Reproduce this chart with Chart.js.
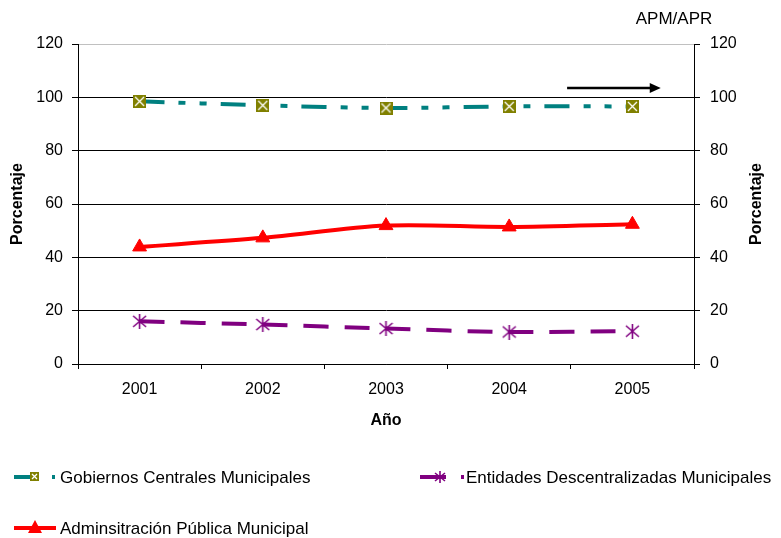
<!DOCTYPE html>
<html>
<head>
<meta charset="utf-8">
<script src="https://cdn.jsdelivr.net/npm/chart.js@4.4.1/dist/chart.umd.min.js"></script>
<style>
  body{margin:0;background:#fff;}
  canvas{display:block;}
</style>
</head>
<body>
<canvas id="myChart" width="781" height="538"></canvas>
<script>
var v_years = ["2001","2002","2003","2004","2005"];
var v_gobiernos = [98.5, 97.0, 96.0, 96.6, 96.6];   // Gobiernos Centrales Municipales
var v_entidades = [16.0, 14.8, 13.3, 12.0, 12.3];   // Entidades Descentralizadas Municipales
var v_admin = [43.9, 47.3, 51.9, 51.4, 52.4];       // Adminsitración Pública Municipal
var v_ticks = [0, 20, 40, 60, 80, 100, 120];
var v_names = ["Gobiernos Centrales Municipales", "Entidades Descentralizadas Municipales", "Adminsitración Pública Municipal"];

var v_font = "'Liberation Sans', Arial, sans-serif";

// 마커 그리기
function f_boxX(p_size){
  var c = document.createElement("canvas");
  c.width = p_size; c.height = p_size;
  var g = c.getContext("2d");
  g.fillStyle = "#808000";
  g.fillRect(0,0,p_size,p_size);
  g.strokeStyle = "#fff";
  g.lineWidth = 1.3;
  g.beginPath();
  g.moveTo(2,2); g.lineTo(p_size-2,p_size-2);
  g.moveTo(p_size-2,2); g.lineTo(2,p_size-2);
  g.stroke();
  return c;
}
function f_star(p_size){
  var c = document.createElement("canvas");
  c.width = p_size; c.height = p_size;
  var g = c.getContext("2d");
  var m = p_size/2;
  g.strokeStyle = "#800080";
  g.lineWidth = 1.6;
  g.beginPath();
  g.moveTo(m,0); g.lineTo(m,p_size);
  g.moveTo(1,2); g.lineTo(p_size-1,p_size-2);
  g.moveTo(p_size-1,2); g.lineTo(1,p_size-2);
  g.stroke();
  return c;
}
var v_boxX = f_boxX(13);
var v_star = f_star(15);
var v_boxXs = f_boxX(9);
var v_stars = f_star(12);

// 범례, 화살표, 오른쪽 제목
var v_extra = {
  id: "extra",
  afterDraw: function(chart){
    var ctx = chart.ctx;
    var xs = chart.scales.x, ys = chart.scales.y;
    ctx.save();
    // 화살표
    var step = xs.getPixelForValue(1) - xs.getPixelForValue(0);
    var ax0 = xs.getPixelForValue(3) + step*0.47;
    var ax1 = xs.getPixelForValue(4) + step*0.23;
    var ay = ys.getPixelForValue(103.5);
    ctx.strokeStyle = "#000"; ctx.fillStyle = "#000"; ctx.lineWidth = 2.5;
    ctx.beginPath(); ctx.moveTo(ax0, ay); ctx.lineTo(ax1-8, ay); ctx.stroke();
    ctx.beginPath(); ctx.moveTo(ax1, ay); ctx.lineTo(ax1-11, ay-5); ctx.lineTo(ax1-11, ay+5); ctx.closePath(); ctx.fill();

    // APM/APR
    ctx.font = "17px " + v_font;
    ctx.textAlign = "center"; ctx.textBaseline = "middle";
    ctx.fillText("APM/APR", 674, 19);

    // 오른쪽 축 제목
    ctx.save();
    ctx.translate(757, ys.getPixelForValue(60));
    ctx.rotate(-Math.PI/2);
    ctx.font = "bold 16px " + v_font;
    ctx.fillText("Porcentaje", 0, 0);
    ctx.restore();

    // 범례
    ctx.font = "17px " + v_font;
    ctx.textAlign = "left";
    var ds = chart.data.datasets;
    // 1
    ctx.lineWidth = 4; ctx.strokeStyle = ds[0].borderColor;
    ctx.beginPath(); ctx.moveTo(14, 477); ctx.lineTo(36, 477); ctx.stroke();
    ctx.drawImage(v_boxXs, 30, 472);
    ctx.fillStyle = ds[0].borderColor; ctx.fillRect(52, 475, 3, 4);
    ctx.fillStyle = "#000"; ctx.fillText(v_names[0], 60, 478);
    // 2
    ctx.strokeStyle = ds[1].borderColor;
    ctx.beginPath(); ctx.moveTo(420, 477); ctx.lineTo(446, 477); ctx.stroke();
    ctx.drawImage(v_stars, 434, 471);
    ctx.fillStyle = ds[1].borderColor; ctx.fillRect(461, 475, 3, 4);
    ctx.fillStyle = "#000"; ctx.fillText(v_names[1], 466, 478);
    // 3
    ctx.strokeStyle = ds[2].borderColor;
    ctx.beginPath(); ctx.moveTo(14, 528); ctx.lineTo(56, 528); ctx.stroke();
    ctx.fillStyle = ds[2].borderColor;
    ctx.beginPath(); ctx.moveTo(35, 520); ctx.lineTo(42, 533); ctx.lineTo(28, 533); ctx.closePath(); ctx.fill();
    ctx.fillStyle = "#000"; ctx.fillText(v_names[2], 60, 529);
    ctx.restore();
  }
};

var ctx = document.getElementById("myChart").getContext("2d");
var myChart = new Chart(ctx, {
  type: "line",
  data: {
    labels: v_years,
    datasets: [{
      label: v_names[0],
      data: v_gobiernos,
      borderColor: "#008080",
      borderWidth: 4,
      borderDash: [25,14,7,14,7,14],
      tension: 0.3,
      pointStyle: v_boxX,
      pointRadius: 7,
      yAxisID: "y"
    },{
      label: v_names[1],
      data: v_entidades,
      borderColor: "#800080",
      borderWidth: 4,
      borderDash: [25,16],
      tension: 0.3,
      pointStyle: v_star,
      pointRadius: 7,
      yAxisID: "y"
    },{
      label: v_names[2],
      data: v_admin,
      borderColor: "#ff0000",
      backgroundColor: "#ff0000",
      borderWidth: 4,
      tension: 0.3,
      pointStyle: "triangle",
      pointRadius: 8,
      pointBorderWidth: 1,
      yAxisID: "y"
    }]
  },
  options: {
    responsive: false,
    animation: false,
    layout: { padding: { top: 44, bottom: 108, left: 0, right: 0 } },
    plugins: { legend: { display: false }, tooltip: { enabled: false } },
    scales: {
      x: {
        offset: true,
        grid: { offset: true, drawOnChartArea: false, tickLength: 5, color: "#000" },
        border: { color: "#000", width: 1 },
        ticks: { color: "#000", padding: 11, font: { family: v_font, size: 16 } },
        title: { display: true, text: "Año", color: "#000", padding: 0, font: { family: v_font, size: 16, weight: "bold" } },
        afterFit: function(s){ s.height = 66; }
      },
      y: {
        position: "left",
        min: 0, max: 120,
        afterBuildTicks: function(s){ s.ticks = v_ticks.map(function(v){ return {value: v}; }); },
        grid: {
          color: function(c){ return c.tick && c.tick.value == 120 ? "#c0c0c0" : "#000"; },
          tickColor: "#000", tickLength: 6
        },
        border: { color: "#000", width: 1 },
        ticks: { color: "#000", padding: 9, font: { family: v_font, size: 16 } },
        title: { display: true, text: "Porcentaje", color: "#000", padding: { top: 8, bottom: 0 }, font: { family: v_font, size: 16, weight: "bold" } },
        afterFit: function(s){ s.width = 78; }
      },
      y1: {
        position: "right",
        min: 0, max: 120,
        afterBuildTicks: function(s){ s.ticks = v_ticks.map(function(v){ return {value: v}; }); },
        grid: { drawOnChartArea: false, color: "#000", tickLength: 6 },
        border: { color: "#000", width: 1 },
        ticks: { color: "#000", padding: 10, font: { family: v_font, size: 16 } },
        afterFit: function(s){ s.width = 87; }
      }
    }
  },
  plugins: [v_extra]
});
</script>
</body>
</html>
